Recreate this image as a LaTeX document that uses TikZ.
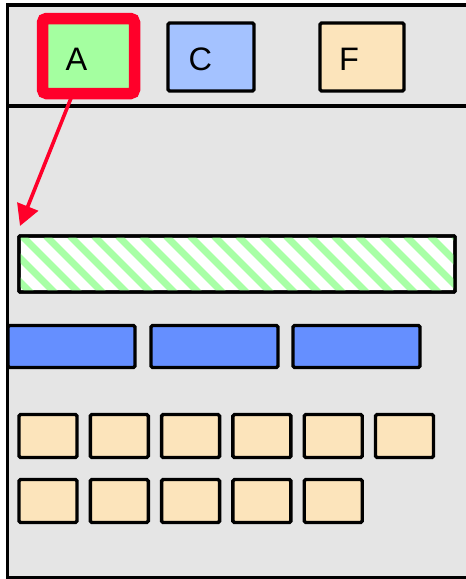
\documentclass[tikz,border=0pt]{standalone}
\usepackage{fontspec}
\setmainfont{Liberation Sans}
\usetikzlibrary{arrows.meta,calc}
\definecolor{bggrey}{RGB}{229,229,229}
\definecolor{agreen}{RGB}{164,255,160}
\definecolor{cblue}{RGB}{164,194,255}
\definecolor{forange}{RGB}{252,228,187}
\definecolor{barblue}{RGB}{101,143,255}
\definecolor{hred}{RGB}{255,0,42}
\definecolor{hatchgreen}{RGB}{168,255,166}
\tikzset{
  box/.style={draw=black, line width=3.4pt, rounded corners=1.5pt, inner sep=0pt, outer sep=0pt, anchor=north west},
  lbl/.style={font=\fontsize{32.5}{32.5}\selectfont, inner sep=0pt, anchor=base west},
  small/.style={box, fill=forange, minimum width=58pt, minimum height=43pt},
  bar/.style={box, fill=barblue, minimum width=127pt, minimum height=42pt},
}
\begin{document}
\begin{tikzpicture}[x=1pt,y=-1pt]
\useasboundingbox (0,0) rectangle (466,579);
\clip (0,0) rectangle (466,579);
% frame
\draw[line width=3.2pt, fill=bggrey] (7.5,5) rectangle (480,578);
\draw[line width=3.8pt] (7.5,106) -- (480,106);
% top boxes
\node[box, draw=hred, line width=11.5pt, rounded corners=4pt, fill=agreen, minimum width=92pt, minimum height=75pt] (A) at (42.5,18.5) {};
\node[lbl] (Alab) at (65.5,70) {A};
\node[box, fill=cblue, minimum width=86pt, minimum height=68pt] (C) at (168,23) {};
\node[lbl] (Clab) at (188.5,70) {C};
\node[box, fill=forange, minimum width=84pt, minimum height=68pt] (F) at (320,23) {};
\node[lbl] (Flab) at (339,70) {F};
% hatched bar
\node[box, rounded corners=1pt, fill=white, minimum width=436pt, minimum height=56pt] (H) at (19,236) {};
\begin{scope}
  \clip (H.north west) rectangle (H.south east);
  \foreach \i in {-3,...,19} {
    \draw[hatchgreen, line width=7pt] ($(H.north west)+(3+24*\i,0)$) -- ++(58,58);
  }
\end{scope}
\draw[line width=3.4pt, rounded corners=1pt] (H.north west) rectangle (H.south east);
% blue bars
\node[bar] (B1) at (8,325.5) {};
\node[bar] (B2) at (151,325.5) {};
\node[bar] (B3) at (293,325.5) {};
% small boxes
\foreach \i in {0,...,5} {
  \node[small] (r1\i) at (19+71.3*\i,414.5) {};
}
\foreach \i in {0,...,4} {
  \node[small] (r2\i) at (19+71.3*\i,479.5) {};
}
% arrow
\coordinate (tip) at (20,226);
\coordinate (start) at ($(A.south west)!0.33!(A.south east)$);
\draw[hred, line width=3.6pt, -{Triangle[length=21pt,width=22pt]}] (start) -- (tip);
\end{tikzpicture}
\end{document}
